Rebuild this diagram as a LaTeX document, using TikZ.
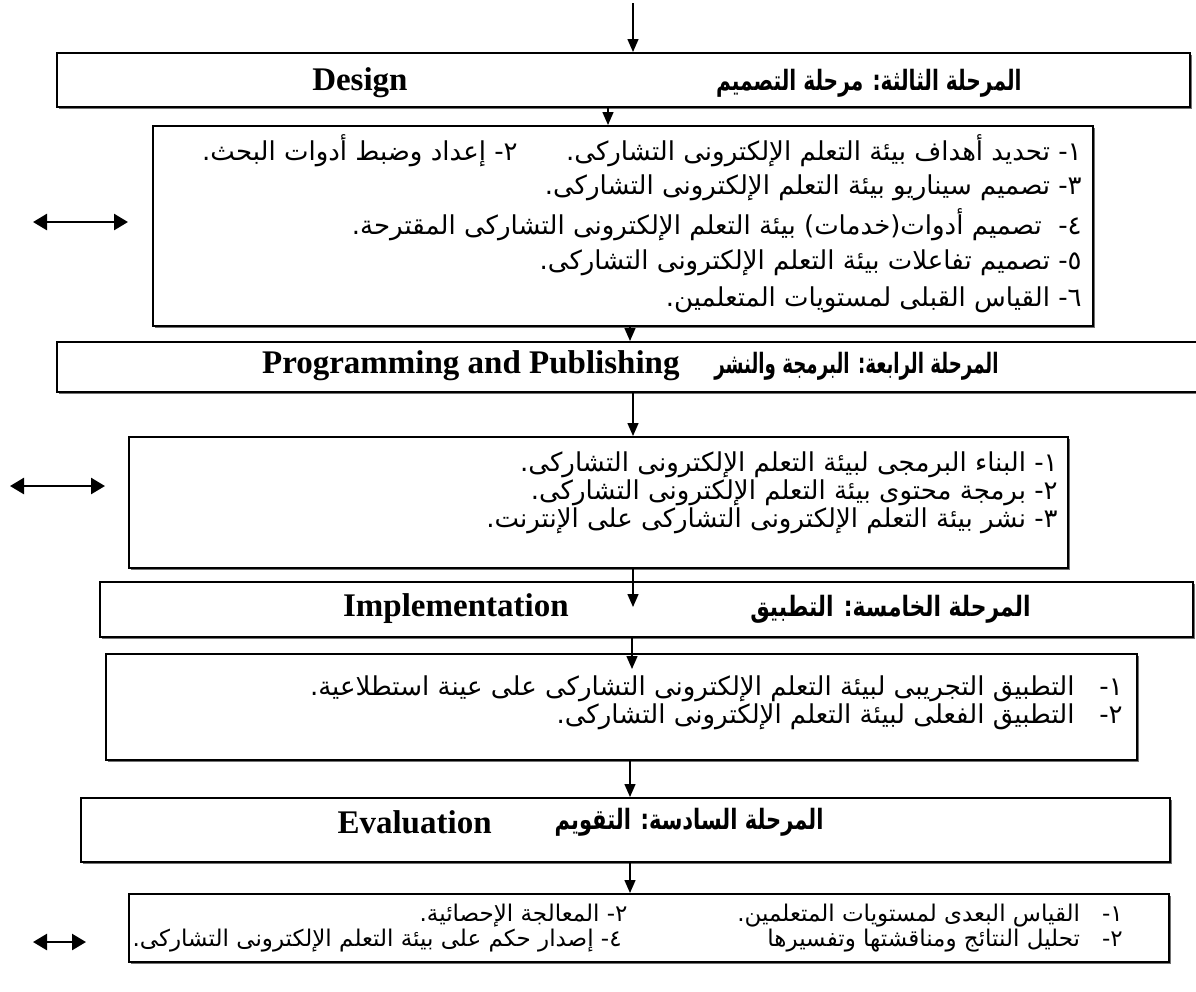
\documentclass[tikz,border=0pt]{standalone}
\usepackage{fontspec}
\usetikzlibrary{arrows.meta,fit,shadows}
\TeXXeTstate=1
\newfontfamily\ar[Script=Arabic]{DejaVu Sans}
\newfontfamily\en{Liberation Serif}
\tikzset{
  box/.style={draw, line width=1pt, fill=white, inner sep=0pt,
    drop shadow={shadow xshift=1pt, shadow yshift=-1pt, fill=black!55, opacity=1}},
  varr/.style={line width=0.7pt, -{Triangle[length=6.5pt,width=5.5pt]}},
  darr/.style={line width=1.3pt, {Triangle[length=7pt,width=8pt]}-{Triangle[length=7pt,width=8pt]}},
  artxt/.style={anchor=east, inner sep=0pt, font=\ar\fontsize{13}{15}\selectfont},
  artxts/.style={anchor=east, inner sep=0pt, font=\ar\fontsize{11.5}{14}\selectfont},
  arhead/.style={anchor=east, inner sep=0pt, font=\ar\bfseries\fontsize{14}{16}\selectfont},
  enhead/.style={anchor=east, inner sep=0pt, font=\en\bfseries\fontsize{16.5}{19}\selectfont},
}
\begin{document}
\begin{tikzpicture}[x=0.5pt,y=-0.5pt]
\useasboundingbox (0,0) rectangle (1196,992);
% boxes
\node[box, fit={(57,53) (1190,107)}] (b1) {};
\node[box, fit={(153,126) (1093,326)}] (b2) {};
\node[box, fit={(57,342) (1240,392)}] (b3) {};
\node[box, fit={(129,437) (1068,568)}] (b4) {};
\node[box, fit={(100,582) (1193,637)}] (b5) {};
\node[box, fit={(106,654) (1137,760)}] (b6) {};
\node[box, fit={(81,798) (1170,862)}] (b7) {};
\node[box, fit={(129,894) (1169,962)}] (b8) {};
% headers
\node[arhead] (h1a) at (1022,83) {\scalebox{0.72}[1]{\beginR المرحلة الثالثة: مرحلة التصميم\endR}};
\node[enhead] (h1e) at (408,83) {Design};
\node[arhead] (h3a) at (999,366) {\scalebox{0.65}[1]{\beginR المرحلة الرابعة: البرمجة والنشر\endR}};
\node[enhead] (h3e) at (680,366) {Programming and Publishing};
\node[arhead] (h5a) at (1031,609) {\scalebox{0.78}[1]{\beginR المرحلة الخامسة: التطبيق\endR}};
\node[enhead] (h5e) at (569,609) {Implementation};
\node[arhead] (h7a) at (824,822) {\scalebox{0.75}[1]{\beginR المرحلة السادسة: التقويم\endR}};
\node[enhead] (h7e) at (492,822) {Evaluation};
% box 2 text
\node[artxt] (t21) at (1082,151) {\beginR ١- تحديد أهداف بيئة التعلم الإلكترونى التشاركى.\endR};
\node[artxt] (t22) at (518,151) {\beginR ٢- إعداد وضبط أدوات البحث.\endR};
\node[artxt] (t23) at (1082,188) {\beginR ٣- تصميم سيناريو بيئة التعلم الإلكترونى التشاركى.\endR};
\node[artxt] (t24) at (1082,225) {\beginR ٤-\ \ تصميم أدوات(خدمات) بيئة التعلم الإلكترونى التشاركى المقترحة.\endR};
\node[artxt] (t25) at (1082,263) {\beginR ٥- تصميم تفاعلات بيئة التعلم الإلكترونى التشاركى.\endR};
\node[artxt] (t26) at (1082,300) {\beginR ٦- القياس القبلى لمستويات المتعلمين.\endR};
% box 4 text
\node[artxt] (t41) at (1058,465) {\beginR ١- البناء البرمجى لبيئة التعلم الإلكترونى التشاركى.\endR};
\node[artxt] (t42) at (1058,493) {\beginR ٢- برمجة محتوى بيئة التعلم الإلكترونى التشاركى.\endR};
\node[artxt] (t43) at (1058,521) {\beginR ٣- نشر بيئة التعلم الإلكترونى التشاركى على الإنترنت.\endR};
% box 6 text
\node[artxt] (t61) at (1123,689) {\beginR ١-\ \ \ التطبيق التجريبى لبيئة التعلم الإلكترونى التشاركى على عينة استطلاعية.\endR};
\node[artxt] (t62) at (1123,717) {\beginR ٢-\ \ \ التطبيق الفعلى لبيئة التعلم الإلكترونى التشاركى.\endR};
% box 8 text
\node[artxts] (t81) at (1123,916) {\beginR ١-\ \ \ القياس البعدى لمستويات المتعلمين.\endR};
\node[artxts] (t82) at (628,916) {\beginR ٢- المعالجة الإحصائية.\endR};
\node[artxts] (t83) at (1123,941) {\beginR ٢-\ \ \ تحليل النتائج ومناقشتها وتفسيرها\endR};
\node[artxts] (t84) at (622,941) {\beginR ٤- إصدار حكم على بيئة التعلم الإلكترونى التشاركى.\endR};
% vertical connectors
\coordinate (top) at (633,3);
\coordinate (xa) at (608,0);
\coordinate (xb) at (630,0);
\coordinate (xc) at (633,0);
\coordinate (e5) at (633,607);
\coordinate (e6) at (632,669);
\draw[varr] (top) -- (top |- b1.north);
\draw[varr] (xa |- b1.south) -- (xa |- b2.north);
\draw[varr] (xb |- b2.south) -- (xb |- b3.north);
\draw[varr] (xc |- b3.south) -- (xc |- b4.north);
\draw[varr] (xc |- b4.south) -- (e5);
\draw[varr] (e6 |- b5.south) -- (e6);
\draw[varr] (xb |- b6.south) -- (xb |- b7.north);
\draw[varr] (xb |- b7.south) -- (xb |- b8.north);
% left double arrows
\coordinate (l1a) at (33,222); \coordinate (l1b) at (128,222);
\coordinate (l2a) at (10,486); \coordinate (l2b) at (105,486);
\coordinate (l3a) at (33,942); \coordinate (l3b) at (86,942);
\draw[darr] (l1a) -- (l1b);
\draw[darr] (l2a) -- (l2b);
\draw[darr] (l3a) -- (l3b);
\end{tikzpicture}
\end{document}
